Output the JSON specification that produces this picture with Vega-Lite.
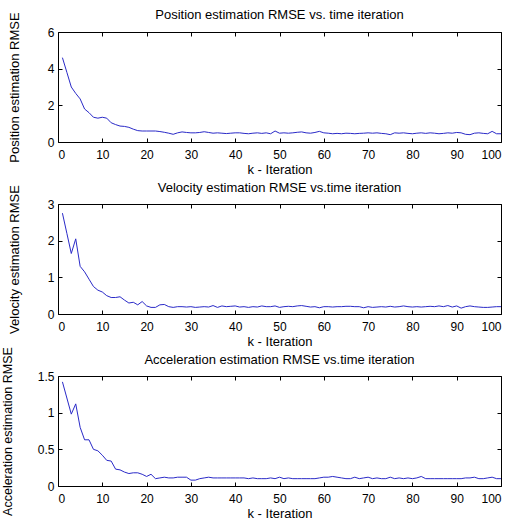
{
  "$schema": "https://vega.github.io/schema/vega-lite/v6.json",
  "background": "white",
  "padding": {"left": 0, "top": 8, "right": 16, "bottom": 0},
  "bounds": "flush",
  "spacing": 62,
  "config": {
    "font": "Liberation Sans",
    "view": {"stroke": "black", "strokeWidth": 1},
    "title": {"fontSize": 13, "fontWeight": "normal", "font": "Liberation Sans", "color": "black", "offset": -10},
    "axis": {
      "domain": false, "grid": false, "tickColor": "black", "tickSize": 4, "offset": -4, "tickWidth": 1, "labelPadding": 4,
      "labelFontSize": 12, "labelColor": "black", "labelFont": "Liberation Sans",
      "titleFontSize": 13, "titleFontWeight": "normal", "titleColor": "black", "titleFont": "Liberation Sans"
    },
    "axisX": {"labelPadding": 7}
  },
  "datasets": {
    "rmse": [
      {"k":1,"pos":4.6,"vel":2.75,"acc":1.42},{"k":2,"pos":3.8,"vel":2.2,"acc":1.2},{"k":3,"pos":3.0,"vel":1.65,"acc":0.98},{"k":4,"pos":2.65,"vel":2.05,"acc":1.12},{"k":5,"pos":2.35,"vel":1.3,"acc":0.8},
      {"k":6,"pos":1.8,"vel":1.15,"acc":0.63},{"k":7,"pos":1.6,"vel":0.95,"acc":0.63},{"k":8,"pos":1.35,"vel":0.75,"acc":0.5},{"k":9,"pos":1.3,"vel":0.65,"acc":0.48},{"k":10,"pos":1.35,"vel":0.6,"acc":0.42},
      {"k":11,"pos":1.3,"vel":0.5,"acc":0.35},{"k":12,"pos":1.05,"vel":0.45,"acc":0.34},{"k":13,"pos":0.95,"vel":0.45,"acc":0.23},{"k":14,"pos":0.87,"vel":0.47,"acc":0.22},{"k":15,"pos":0.85,"vel":0.38,"acc":0.19},
      {"k":16,"pos":0.8,"vel":0.3,"acc":0.17},{"k":17,"pos":0.7,"vel":0.32,"acc":0.18},{"k":18,"pos":0.62,"vel":0.25,"acc":0.18},{"k":19,"pos":0.6,"vel":0.34,"acc":0.16},{"k":20,"pos":0.6,"vel":0.22,"acc":0.13},
      {"k":21,"pos":0.6,"vel":0.18,"acc":0.16},{"k":22,"pos":0.6,"vel":0.18,"acc":0.1},{"k":23,"pos":0.57,"vel":0.25,"acc":0.11},{"k":24,"pos":0.53,"vel":0.26,"acc":0.12},{"k":25,"pos":0.48,"vel":0.2,"acc":0.11},
      {"k":26,"pos":0.42,"vel":0.18,"acc":0.11},{"k":27,"pos":0.5,"vel":0.2,"acc":0.12},{"k":28,"pos":0.55,"vel":0.2,"acc":0.12},{"k":29,"pos":0.52,"vel":0.19,"acc":0.12},{"k":30,"pos":0.5,"vel":0.2,"acc":0.08},
      {"k":31,"pos":0.5,"vel":0.18,"acc":0.08},{"k":32,"pos":0.52,"vel":0.19,"acc":0.1},{"k":33,"pos":0.56,"vel":0.2,"acc":0.11},{"k":34,"pos":0.52,"vel":0.19,"acc":0.12},{"k":35,"pos":0.48,"vel":0.23,"acc":0.11},
      {"k":36,"pos":0.5,"vel":0.18,"acc":0.11},{"k":37,"pos":0.48,"vel":0.22,"acc":0.11},{"k":38,"pos":0.46,"vel":0.2,"acc":0.11},{"k":39,"pos":0.48,"vel":0.21,"acc":0.11},{"k":40,"pos":0.5,"vel":0.22,"acc":0.11},
      {"k":41,"pos":0.5,"vel":0.19,"acc":0.11},{"k":42,"pos":0.47,"vel":0.2,"acc":0.11},{"k":43,"pos":0.45,"vel":0.18,"acc":0.1},{"k":44,"pos":0.48,"vel":0.2,"acc":0.11},{"k":45,"pos":0.5,"vel":0.19,"acc":0.1},
      {"k":46,"pos":0.47,"vel":0.22,"acc":0.1},{"k":47,"pos":0.5,"vel":0.2,"acc":0.1},{"k":48,"pos":0.45,"vel":0.2,"acc":0.11},{"k":49,"pos":0.6,"vel":0.22,"acc":0.1},{"k":50,"pos":0.48,"vel":0.18,"acc":0.12},
      {"k":51,"pos":0.5,"vel":0.2,"acc":0.1},{"k":52,"pos":0.48,"vel":0.21,"acc":0.11},{"k":53,"pos":0.5,"vel":0.2,"acc":0.1},{"k":54,"pos":0.53,"vel":0.22,"acc":0.1},{"k":55,"pos":0.55,"vel":0.23,"acc":0.1},
      {"k":56,"pos":0.5,"vel":0.21,"acc":0.1},{"k":57,"pos":0.48,"vel":0.19,"acc":0.1},{"k":58,"pos":0.52,"vel":0.2,"acc":0.1},{"k":59,"pos":0.58,"vel":0.17,"acc":0.11},{"k":60,"pos":0.5,"vel":0.2,"acc":0.12},
      {"k":61,"pos":0.48,"vel":0.2,"acc":0.12},{"k":62,"pos":0.45,"vel":0.19,"acc":0.13},{"k":63,"pos":0.47,"vel":0.2,"acc":0.12},{"k":64,"pos":0.45,"vel":0.2,"acc":0.11},{"k":65,"pos":0.48,"vel":0.21,"acc":0.1},
      {"k":66,"pos":0.47,"vel":0.21,"acc":0.1},{"k":67,"pos":0.45,"vel":0.2,"acc":0.12},{"k":68,"pos":0.47,"vel":0.2,"acc":0.1},{"k":69,"pos":0.48,"vel":0.17,"acc":0.11},{"k":70,"pos":0.5,"vel":0.2,"acc":0.12},
      {"k":71,"pos":0.48,"vel":0.18,"acc":0.1},{"k":72,"pos":0.5,"vel":0.19,"acc":0.11},{"k":73,"pos":0.47,"vel":0.2,"acc":0.1},{"k":74,"pos":0.45,"vel":0.19,"acc":0.1},{"k":75,"pos":0.4,"vel":0.21,"acc":0.12},
      {"k":76,"pos":0.5,"vel":0.19,"acc":0.1},{"k":77,"pos":0.48,"vel":0.2,"acc":0.11},{"k":78,"pos":0.5,"vel":0.22,"acc":0.1},{"k":79,"pos":0.47,"vel":0.2,"acc":0.11},{"k":80,"pos":0.45,"vel":0.19,"acc":0.1},
      {"k":81,"pos":0.48,"vel":0.2,"acc":0.11},{"k":82,"pos":0.5,"vel":0.19,"acc":0.13},{"k":83,"pos":0.47,"vel":0.2,"acc":0.1},{"k":84,"pos":0.5,"vel":0.21,"acc":0.1},{"k":85,"pos":0.48,"vel":0.2,"acc":0.1},
      {"k":86,"pos":0.45,"vel":0.22,"acc":0.1},{"k":87,"pos":0.47,"vel":0.2,"acc":0.1},{"k":88,"pos":0.5,"vel":0.23,"acc":0.1},{"k":89,"pos":0.48,"vel":0.19,"acc":0.1},{"k":90,"pos":0.52,"vel":0.22,"acc":0.1},
      {"k":91,"pos":0.5,"vel":0.16,"acc":0.1},{"k":92,"pos":0.42,"vel":0.2,"acc":0.11},{"k":93,"pos":0.4,"vel":0.22,"acc":0.11},{"k":94,"pos":0.48,"vel":0.2,"acc":0.12},{"k":95,"pos":0.5,"vel":0.19,"acc":0.1},
      {"k":96,"pos":0.47,"vel":0.18,"acc":0.1},{"k":97,"pos":0.45,"vel":0.18,"acc":0.11},{"k":98,"pos":0.58,"vel":0.19,"acc":0.12},{"k":99,"pos":0.45,"vel":0.2,"acc":0.1},{"k":100,"pos":0.45,"vel":0.2,"acc":0.1}
    ]
  },
  "vconcat": [
    {
      "title": "Position estimation RMSE vs. time iteration",
      "width": 443, "height": 110,
      "data": {"name": "rmse"},
      "layer": [
        {"mark": {"type": "line", "color": "#2a2ac8", "strokeWidth": 1},
         "encoding": {
           "x": {"field": "k", "type": "quantitative", "scale": {"domain": [0, 100], "nice": false}, "axis": {"orient": "bottom", "values": [0,10,20,30,40,50,60,70,80,90,100], "title": "k - Iteration", "titlePadding": 3}},
           "y": {"field": "pos", "type": "quantitative", "scale": {"domain": [0, 6], "nice": false}, "axis": {"orient": "left", "values": [0,2,4,6], "title": "Position estimation RMSE", "titlePadding": 26}}
         }},
        {"mark": {"type": "line", "opacity": 0},
         "encoding": {
           "x": {"field": "k", "type": "quantitative", "axis": {"orient": "top", "values": [0,10,20,30,40,50,60,70,80,90,100], "labels": false, "title": null}},
           "y": {"field": "pos", "type": "quantitative", "axis": {"orient": "right", "values": [0,2,4,6], "labels": false, "title": null}}
         }}
      ],
      "resolve": {"axis": {"x": "independent", "y": "independent"}}
    },
    {
      "title": "Velocity estimation RMSE vs.time iteration",
      "width": 443, "height": 110,
      "data": {"name": "rmse"},
      "layer": [
        {"mark": {"type": "line", "color": "#2a2ac8", "strokeWidth": 1},
         "encoding": {
           "x": {"field": "k", "type": "quantitative", "scale": {"domain": [0, 100], "nice": false}, "axis": {"orient": "bottom", "values": [0,10,20,30,40,50,60,70,80,90,100], "title": "k - Iteration", "titlePadding": 3}},
           "y": {"field": "vel", "type": "quantitative", "scale": {"domain": [0, 3], "nice": false}, "axis": {"orient": "left", "values": [0,1,2,3], "title": "Velocity estimation RMSE", "titlePadding": 26}}
         }},
        {"mark": {"type": "line", "opacity": 0},
         "encoding": {
           "x": {"field": "k", "type": "quantitative", "axis": {"orient": "top", "values": [0,10,20,30,40,50,60,70,80,90,100], "labels": false, "title": null}},
           "y": {"field": "vel", "type": "quantitative", "axis": {"orient": "right", "values": [0,1,2,3], "labels": false, "title": null}}
         }}
      ],
      "resolve": {"axis": {"x": "independent", "y": "independent"}}
    },
    {
      "title": {"text": "Acceleration estimation RMSE vs.time iteration", "offset": -20},
      "width": 443, "height": 110,
      "data": {"name": "rmse"},
      "layer": [
        {"mark": {"type": "line", "color": "#2a2ac8", "strokeWidth": 1},
         "encoding": {
           "x": {"field": "k", "type": "quantitative", "scale": {"domain": [0, 100], "nice": false}, "axis": {"orient": "bottom", "values": [0,10,20,30,40,50,60,70,80,90,100], "title": "k - Iteration", "titlePadding": 3}},
           "y": {"field": "acc", "type": "quantitative", "scale": {"domain": [0, 1.5], "nice": false}, "axis": {"orient": "left", "values": [0,0.5,1,1.5], "format": "~g", "title": "Acceleration estimation RMSE", "titlePadding": 23, "titleFontSize": 12.5}}
         }},
        {"mark": {"type": "line", "opacity": 0},
         "encoding": {
           "x": {"field": "k", "type": "quantitative", "axis": {"orient": "top", "values": [0,10,20,30,40,50,60,70,80,90,100], "labels": false, "title": null}},
           "y": {"field": "acc", "type": "quantitative", "axis": {"orient": "right", "values": [0,0.5,1,1.5], "labels": false, "title": null}}
         }}
      ],
      "resolve": {"axis": {"x": "independent", "y": "independent"}}
    }
  ]
}
